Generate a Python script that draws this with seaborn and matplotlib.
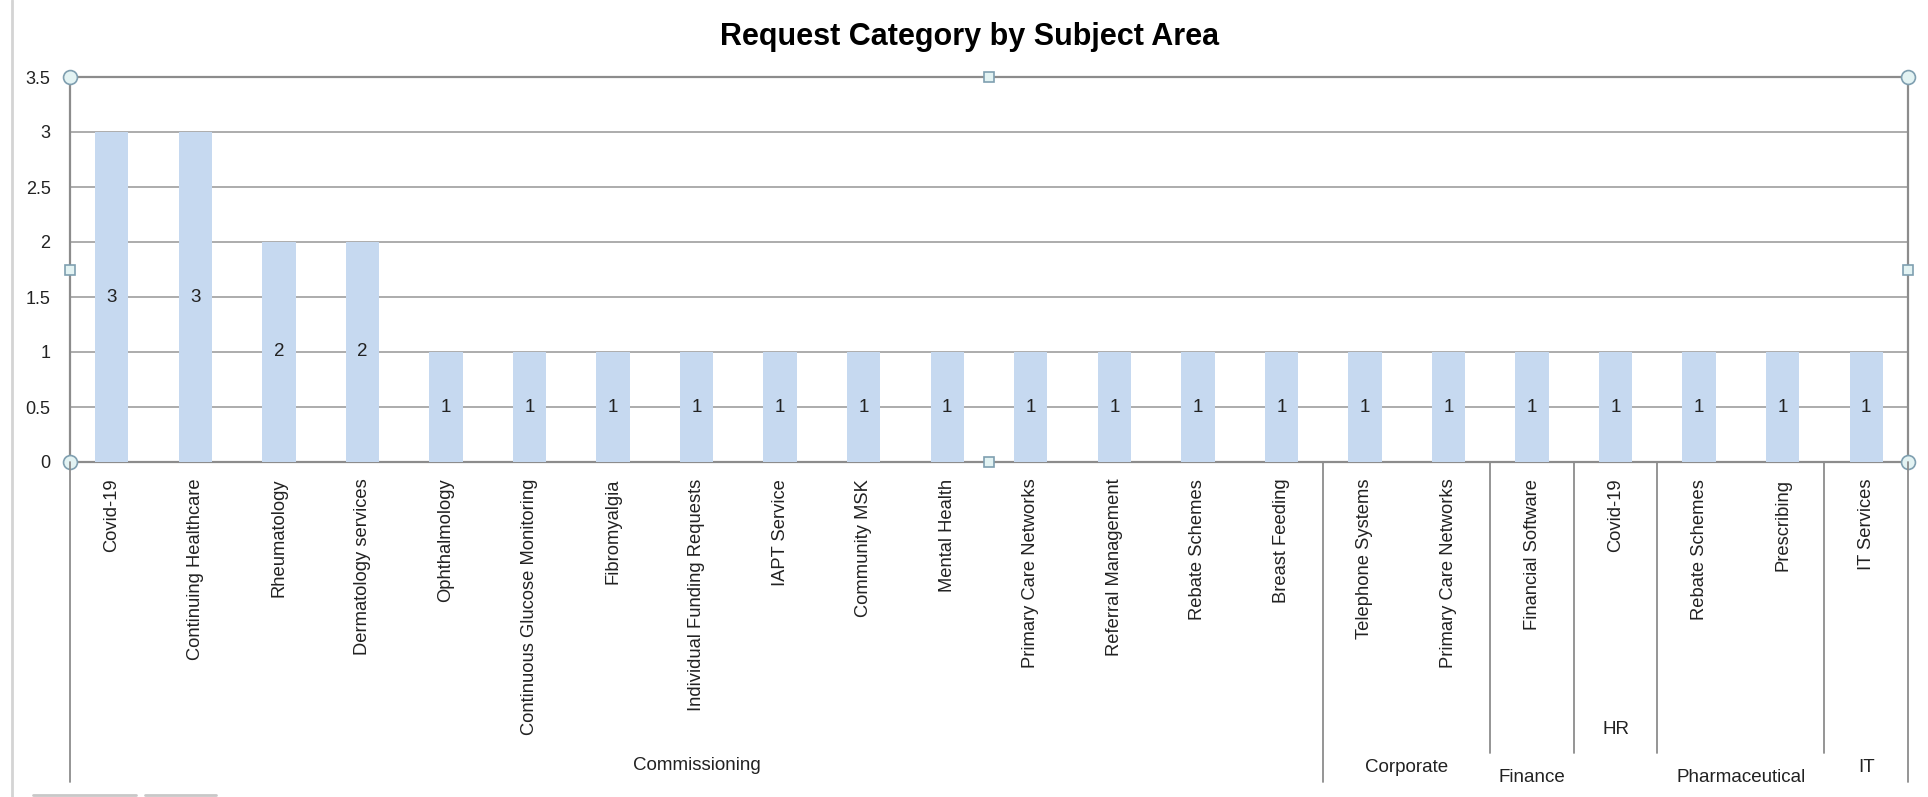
import numpy as np
import pandas as pd
import matplotlib
matplotlib.use("Agg")
import matplotlib.pyplot as plt
import seaborn as sns
from matplotlib.lines import Line2D
import matplotlib.transforms as mtransforms

# ---------------- data ----------------
groups = ["Commissioning", "Corporate", "Finance", "HR", "Pharmaceutical", "IT"]
group_items = [
    ["Covid-19", "Continuing Healthcare", "Rheumatology", "Dermatology services",
     "Ophthalmology", "Continuous Glucose Monitoring", "Fibromyalgia",
     "Individual Funding Requests", "IAPT Service", "Community MSK", "Mental Health",
     "Primary Care Networks", "Referral Management", "Rebate Schemes", "Breast Feeding"],
    ["Telephone Systems", "Primary Care Networks"],
    ["Financial Software"],
    ["Covid-19"],
    ["Rebate Schemes", "Prescribing"],
    ["IT Services"],
]
counts = [3, 3, 2, 2, 1, 1, 1, 1, 1, 1, 1, 1, 1, 1, 1,
          1, 1,
          1,
          1,
          1, 1,
          1]
y_ticks = [0, 0.5, 1, 1.5, 2, 2.5, 3, 3.5]
y_tick_labels = ["0", "0.5", "1", "1.5", "2", "2.5", "3", "3.5"]
title = "Request Category by Subject Area"

# ---------------- layout / style ----------------
W, H = 1928, 797
# figure-pixel y for each group label (Excel-like staggered placement)
group_label_y = [766, 768, 777, 730, 777, 767]
bar_color = "#c6d9f0"
grid_color = "#a6a6a6"
font = ["Liberation Sans", "DejaVu Sans"]

sns.set_theme(style="white")
plt.rcParams["font.family"] = font

names, grp_col, keys = [], [], []
for g, items in zip(groups, group_items):
    for it in items:
        names.append(it)
        grp_col.append(g)
        keys.append(f"{g}|{it}")
df = pd.DataFrame({"key": keys, "name": names, "group": grp_col, "count": counts})

fig = plt.figure(figsize=(W / 100, H / 100), dpi=100)
ax_left, ax_right = 70 / W, 1908 / W
ax_bottom, ax_top = 1 - 462 / H, 1 - 77 / H
ax = fig.add_axes([ax_left, ax_bottom, ax_right - ax_left, ax_top - ax_bottom])

sns.barplot(data=df, x="key", y="count", order=keys, color=bar_color,
            saturation=1, width=0.4, ax=ax, errorbar=None, zorder=3,
            linewidth=0, edgecolor="none")

ax.set_ylim(0, 3.5)
ax.set_xlim(-0.5, len(keys) - 0.5)
ax.set_yticks(y_ticks)
ax.set_yticklabels(y_tick_labels, fontsize=13, color="#222222")
ax.set_xticks(range(len(keys)))
ax.set_xticklabels(names, rotation=90, fontsize=13.2, color="#222222", va="top")
ax.tick_params(axis="both", length=0)
ax.tick_params(axis="x", pad=12)
ax.tick_params(axis="y", pad=14)
ax.set_xlabel("")
ax.set_ylabel("")

# gridlines
ax.yaxis.grid(True, color=grid_color, linewidth=1.3, zorder=0)
ax.set_axisbelow(True)
for s in ax.spines.values():
    s.set_visible(True)
    s.set_color("#8c8c8c")
    s.set_linewidth(1.6)

# bar value labels (centred in the bar)
for cont in ax.containers:
    ax.bar_label(cont, labels=[f"{v:g}" for v in df["count"]], label_type="center",
                 fontsize=13.5, color="#222222")

# group separators and labels in the category-axis region
trans = mtransforms.blended_transform_factory(ax.transData, fig.transFigure)
axis_y = ax_bottom
long_y = 1 - 782 / H
short_y = 1 - 753 / H
start = 0
bounds = [-0.5]
for items in group_items:
    start += len(items)
    bounds.append(start - 0.5)
for i, b in enumerate(bounds):
    y_end = long_y if i in (0, 1, len(bounds) - 1) else short_y
    fig.add_artist(Line2D([b, b], [axis_y, y_end], transform=trans,
                          color="#8c8c8c", linewidth=1.3, clip_on=False))
for i, g in enumerate(groups):
    cx = (bounds[i] + bounds[i + 1]) / 2
    ax.text(cx, 1 - group_label_y[i] / H, g, transform=trans, ha="center",
            va="center", fontsize=13.5, color="#222222", clip_on=False)

# selection handles (Excel chart-area style)
for (hx, hy) in [(0, 0), (0, 1), (1, 0), (1, 1)]:
    ax.plot([hx], [hy], marker="o", markersize=10, markerfacecolor="#e3f3f3",
            markeredgecolor="#7f9fb0", markeredgewidth=1.2, transform=ax.transAxes,
            clip_on=False, zorder=6)
for (hx, hy) in [(0.5, 0), (0.5, 1), (0, 0.5), (1, 0.5)]:
    ax.plot([hx], [hy], marker="s", markersize=7, markerfacecolor="#e3f3f3",
            markeredgecolor="#7f9fb0", markeredgewidth=1.2, transform=ax.transAxes,
            clip_on=False, zorder=6)

# window edge and tabs
fig.add_artist(Line2D([12 / W, 12 / W], [0, 1], transform=fig.transFigure,
                      color="#d4d4d4", linewidth=2))
fig.add_artist(Line2D([33 / W, 136 / W], [2 / H, 2 / H], transform=fig.transFigure,
                      color="#c8c8c8", linewidth=2))
fig.add_artist(Line2D([145 / W, 216 / W], [2 / H, 2 / H], transform=fig.transFigure,
                      color="#c8c8c8", linewidth=2))

fig.text(970 / W, 1 - 37 / H, title, ha="center", va="center",
         fontsize=22, fontweight="bold", color="black")

fig.savefig("out.png", dpi=100, facecolor="white")
